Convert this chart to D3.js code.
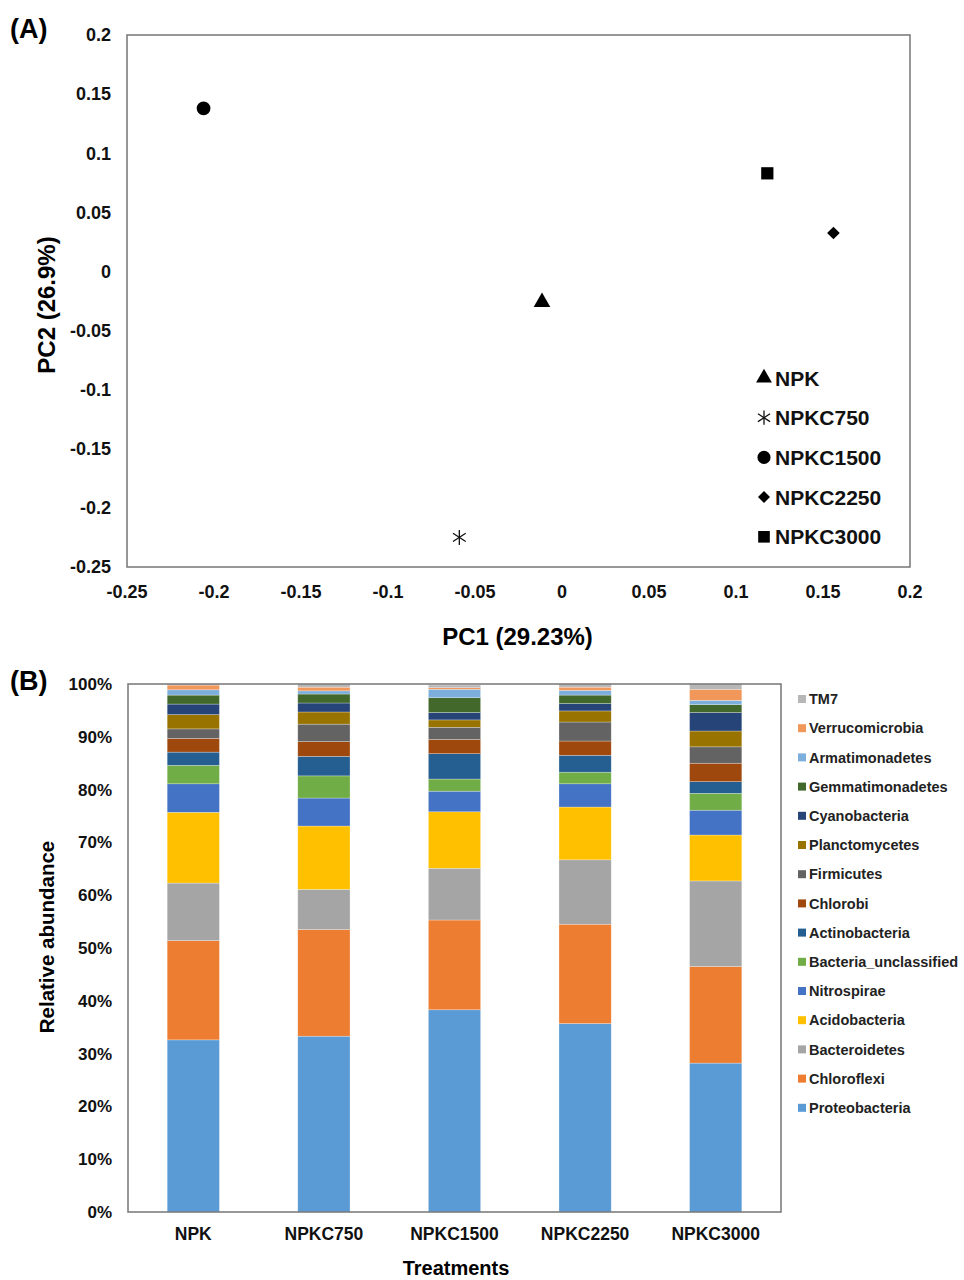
<!DOCTYPE html>
<html>
<head>
<meta charset="utf-8">
<script src="https://cdn.jsdelivr.net/npm/d3@7"></script>
<style>
  body { margin: 0; background: #fff; }
  svg { font-family: "Liberation Sans", Arial, sans-serif; font-weight: bold; }
</style>
</head>
<body>
<div id="chart"></div>
<script>
// ---- data: PCA scores (panel A) ----
const treatments = ["NPK", "NPKC750", "NPKC1500", "NPKC2250", "NPKC3000"];
const pc1 = [-0.0115, -0.059, -0.206, 0.156, 0.118];
const pc2 = [-0.026, -0.225, 0.138, 0.0325, 0.083];
const xTicksA = [-0.25, -0.2, -0.15, -0.1, -0.05, 0, 0.05, 0.1, 0.15, 0.2];
const yTicksA = [-0.25, -0.2, -0.15, -0.1, -0.05, 0, 0.05, 0.1, 0.15, 0.2];

// ---- data: relative abundance % (panel B), bottom to top ----
const phyla = ["Proteobacteria", "Chloroflexi", "Bacteroidetes", "Acidobacteria", "Nitrospirae",
  "Bacteria_unclassified", "Actinobacteria", "Chlorobi", "Firmicutes", "Planctomycetes",
  "Cyanobacteria", "Gemmatimonadetes", "Armatimonadetes", "Verrucomicrobia", "TM7"];
const colors = ["#5B9BD5", "#ED7D31", "#A5A5A5", "#FFC000", "#4472C4",
  "#70AD47", "#255E91", "#9E480E", "#636363", "#997300",
  "#264478", "#43682B", "#7CAFDD", "#F1975A", "#B7B7B7"];
// one array per treatment, same order as phyla
const npk      = [32.6, 18.8, 10.9, 13.4, 5.4, 3.5, 2.5, 2.6, 1.8, 2.7, 2.0, 1.7, 1.0, 0.9, 0.2];
const npkc750  = [33.3, 20.2, 7.6, 12.0, 5.3, 4.2, 3.7, 2.8, 3.3, 2.3, 1.7, 1.7, 0.6, 0.7, 0.6];
const npkc1500 = [38.3, 17.0, 9.8, 10.7, 3.9, 2.3, 4.8, 2.7, 2.3, 1.4, 1.4, 2.8, 1.6, 0.3, 0.5];
const npkc2250 = [35.7, 18.8, 12.2, 10.0, 4.4, 2.2, 3.2, 2.7, 3.6, 2.1, 1.4, 1.6, 0.9, 0.6, 0.6];
const npkc3000 = [28.2, 18.3, 16.2, 8.7, 4.7, 3.2, 2.2, 3.5, 3.1, 3.0, 3.5, 1.5, 0.8, 2.1, 1.0];
const yTicksB = [0, 10, 20, 30, 40, 50, 60, 70, 80, 90, 100];

const width = 964, height = 1280;
const svg = d3.select("#chart").append("svg")
  .attr("width", width).attr("height", height);

// ================= Panel A =================
const a = { left: 127, right: 910, top: 35, bottom: 567 };
const xA = d3.scaleLinear().domain([-0.25, 0.2]).range([a.left, a.right]);
const yA = d3.scaleLinear().domain([-0.25, 0.2]).range([a.bottom, a.top]);

svg.append("text").attr("x", 10).attr("y", 38).attr("font-size", 27).text("(A)");

svg.append("rect")
  .attr("x", a.left).attr("y", a.top)
  .attr("width", a.right - a.left).attr("height", a.bottom - a.top)
  .attr("fill", "none").attr("stroke", "#767676").attr("stroke-width", 1.5);

// plain hyphen for negatives, like the original
svg.append("g").selectAll("text").data(yTicksA).join("text")
  .attr("x", 111).attr("y", d => yA(d)).attr("dy", "0.35em")
  .attr("text-anchor", "end").attr("font-size", 18).attr("fill", "#111")
  .text(d => String(d));

svg.append("g").selectAll("text").data(xTicksA).join("text")
  .attr("x", d => xA(d)).attr("y", 592).attr("dy", "0.35em")
  .attr("text-anchor", "middle").attr("font-size", 18).attr("fill", "#111")
  .text(d => String(d));

svg.append("text").attr("x", (a.left + a.right) / 2 - 1).attr("y", 645)
  .attr("text-anchor", "middle").attr("font-size", 24).text("PC1 (29.23%)");
svg.append("text").attr("transform", "translate(55,305) rotate(-90)")
  .attr("text-anchor", "middle").attr("font-size", 24).text("PC2 (26.9%)");

// marker generators
const symbolFor = {
  "NPK": d3.symbol().type(d3.symbolTriangle).size(120),
  "NPKC1500": d3.symbol().type(d3.symbolCircle).size(150),
  "NPKC2250": d3.symbol().type(d3.symbolSquare).size(80),
  "NPKC3000": d3.symbol().type(d3.symbolSquare).size(150)
};

function drawMarker(g, name, cx, cy, scale) {
  const s = scale || 1;
  if (name === "NPKC750") {
    const r = 7.5 * s;
    const lines = [[0, -r, 0, r], [-r * 0.85, -r * 0.55, r * 0.85, r * 0.55], [-r * 0.85, r * 0.55, r * 0.85, -r * 0.55]];
    g.append("g").attr("transform", `translate(${cx},${cy})`)
      .selectAll("line").data(lines).join("line")
      .attr("x1", d => d[0]).attr("y1", d => d[1]).attr("x2", d => d[2]).attr("y2", d => d[3])
      .attr("stroke", "#111").attr("stroke-width", 1.3);
  } else {
    const rot = name === "NPKC2250" ? 45 : 0;
    g.append("path")
      .attr("d", symbolFor[name]())
      .attr("transform", `translate(${cx},${cy}) rotate(${rot}) scale(${s})`)
      .attr("fill", "#000");
  }
}

const pts = svg.append("g");
treatments.forEach((t, i) => drawMarker(pts, t, xA(pc1[i]), yA(pc2[i]), 1));

// legend A
const legA = svg.append("g");
treatments.forEach((t, i) => {
  const y = 378 + i * 39.7;
  drawMarker(legA, t, 764, y, 0.95);
  legA.append("text").attr("x", 775).attr("y", y).attr("dy", "0.36em")
    .attr("font-size", 21).attr("fill", "#111").text(t);
});

// ================= Panel B =================
const b = { left: 128, right: 781, top: 684, bottom: 1212 };
const rows = [npk, npkc750, npkc1500, npkc2250, npkc3000];
const table = treatments.map((t, i) => {
  const o = { treatment: t };
  phyla.forEach((p, j) => o[p] = rows[i][j]);
  return o;
});
const stack = d3.stack().keys(phyla)(table);

const xB = d3.scaleBand().domain(treatments).range([b.left, b.right])
  .paddingInner(0.6).paddingOuter(0.3);
const yB = d3.scaleLinear().domain([0, 100]).range([b.bottom, b.top]);
const colorB = d3.scaleOrdinal().domain(phyla).range(colors);

svg.append("text").attr("x", 10).attr("y", 690).attr("font-size", 27).text("(B)");

svg.append("g").selectAll("g").data(stack).join("g")
  .attr("fill", d => colorB(d.key))
  .selectAll("rect").data(d => d).join("rect")
  .attr("x", d => xB(d.data.treatment))
  .attr("width", xB.bandwidth())
  .attr("y", d => yB(d[1]))
  .attr("height", d => yB(d[0]) - yB(d[1]))
  .attr("stroke", "rgba(255,255,255,0.45)").attr("stroke-width", 0.6);

svg.append("rect")
  .attr("x", b.left).attr("y", b.top)
  .attr("width", b.right - b.left).attr("height", b.bottom - b.top)
  .attr("fill", "none").attr("stroke", "#767676").attr("stroke-width", 1.5);

svg.append("g").selectAll("text").data(yTicksB).join("text")
  .attr("x", 112).attr("y", d => yB(d)).attr("dy", "0.35em")
  .attr("text-anchor", "end").attr("font-size", 17).attr("fill", "#111")
  .text(d => d + "%");

svg.append("g").selectAll("text").data(treatments).join("text")
  .attr("x", d => xB(d) + xB.bandwidth() / 2).attr("y", 1234).attr("dy", "0.35em")
  .attr("text-anchor", "middle").attr("font-size", 17.5).attr("fill", "#111")
  .text(d => d);

svg.append("text").attr("x", 456).attr("y", 1275)
  .attr("text-anchor", "middle").attr("font-size", 20).text("Treatments");
svg.append("text").attr("transform", "translate(54,937) rotate(-90)")
  .attr("text-anchor", "middle").attr("font-size", 20.5).text("Relative abundance");

// legend B, top entry is TM7
const legB = svg.append("g");
phyla.slice().reverse().forEach((p, i) => {
  const y = 699 + i * 29.2;
  legB.append("rect").attr("x", 798).attr("y", y - 4).attr("width", 8).attr("height", 8)
    .attr("fill", colorB(p));
  legB.append("text").attr("x", 809).attr("y", y).attr("dy", "0.36em")
    .attr("font-size", 14.5).attr("fill", "#222").text(p);
});
</script>
</body>
</html>
